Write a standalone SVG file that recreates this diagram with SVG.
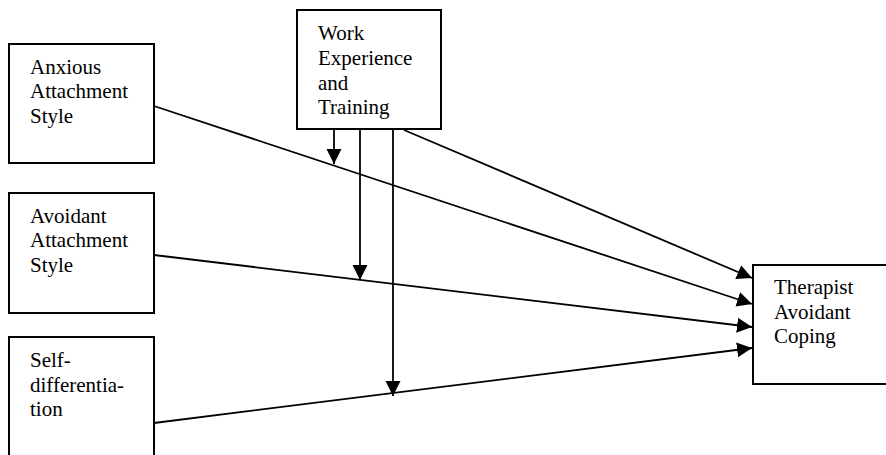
<svg xmlns="http://www.w3.org/2000/svg" width="886" height="455" viewBox="0 0 886 455">
<style>
.box{fill:#fff;stroke:#000;stroke-width:2}
.t{font-family:"Liberation Serif","Times New Roman",serif;font-size:21px;fill:#000}
.c line{stroke:#000;stroke-width:1.8;fill:none}
</style>
<defs>
<marker id="ah" markerUnits="userSpaceOnUse" markerWidth="16" markerHeight="16" viewBox="0 0 16 16" refX="15" refY="8" orient="auto">
<path d="M0,0.5 L15,8 L0,15.5 Z" fill="#000"/>
</marker>
</defs>
<rect width="886" height="455" fill="#fff"/>
<g id="anxious">
<rect class="box" x="9" y="44" width="145" height="119"/>
<text class="t" x="30" y="74">Anxious</text>
<text class="t" x="30" y="98">Attachment</text>
<text class="t" x="30" y="123">Style</text>
</g>
<g id="avoidant">
<rect class="box" x="9" y="193" width="145" height="120"/>
<text class="t" x="30" y="223">Avoidant</text>
<text class="t" x="30" y="247">Attachment</text>
<text class="t" x="30" y="272">Style</text>
</g>
<g id="self">
<rect class="box" x="9" y="337" width="145" height="130"/>
<text class="t" x="30" y="367">Self-</text>
<text class="t" x="30" y="392">differentia-</text>
<text class="t" x="30" y="416">tion</text>
</g>
<g id="work">
<rect class="box" x="297" y="10" width="144" height="119"/>
<text class="t" x="318" y="40">Work</text>
<text class="t" x="318" y="65">Experience</text>
<text class="t" x="318" y="90">and</text>
<text class="t" x="318" y="114">Training</text>
</g>
<g id="therapist">
<rect class="box" x="753" y="265" width="140" height="119"/>
<text class="t" x="774" y="294">Therapist</text>
<text class="t" x="774" y="319">Avoidant</text>
<text class="t" x="774" y="343">Coping</text>
</g>
<g class="c" id="connectors">
<line x1="154" y1="106" x2="752" y2="304" marker-end="url(#ah)"/>
<line x1="404" y1="130" x2="752" y2="278" marker-end="url(#ah)"/>
<line x1="154" y1="255" x2="752" y2="327" marker-end="url(#ah)"/>
<line x1="154" y1="423" x2="752" y2="348" marker-end="url(#ah)"/>
<line x1="334" y1="130" x2="334" y2="164" marker-end="url(#ah)"/>
<line x1="360" y1="130" x2="360" y2="280" marker-end="url(#ah)"/>
<line x1="393" y1="130" x2="393" y2="396" marker-end="url(#ah)"/>
</g>
</svg>
